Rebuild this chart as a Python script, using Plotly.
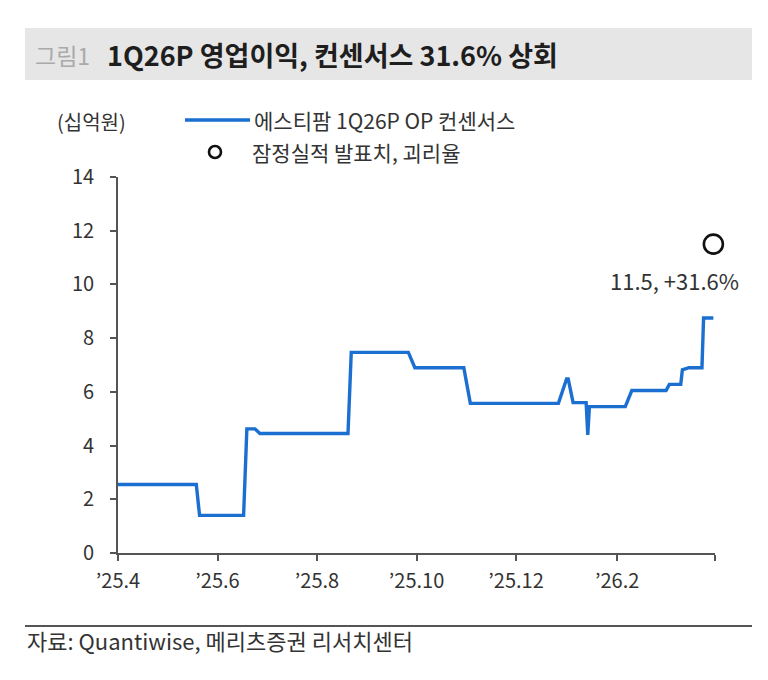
import plotly.graph_objects as go

FONT = "Noto Sans CJK KR"

# consensus OP (KRW bn), step series
op_dates = [
    "2025-04-01", "2025-05-19", "2025-05-21", "2025-06-17", "2025-06-19",
    "2025-06-24", "2025-06-27", "2025-08-20", "2025-08-22", "2025-09-26",
    "2025-09-30", "2025-10-30", "2025-11-03", "2025-12-27", "2026-01-01",
    "2026-01-02", "2026-01-05", "2026-01-13", "2026-01-14", "2026-01-15",
    "2026-02-06", "2026-02-10", "2026-03-03", "2026-03-05", "2026-03-12",
    "2026-03-13", "2026-03-17", "2026-03-25", "2026-03-26", "2026-04-01",
]
op_values = [
    2.55, 2.55, 1.40, 1.40, 4.62,
    4.62, 4.45, 4.45, 7.47, 7.47,
    6.90, 6.90, 5.57, 5.57, 6.48,
    6.48, 5.60, 5.60, 4.40, 5.45,
    5.45, 6.05, 6.05, 6.28, 6.28,
    6.82, 6.90, 6.90, 8.75, 8.75,
]

actual_date = ["2026-04-01"]
actual_value = [11.5]
actual_label = "11.5, +31.6%"

tick_dates = ["2025-04-01", "2025-06-01", "2025-08-01", "2025-10-01",
              "2025-12-01", "2026-02-01", "2026-04-02"]
tick_labels = ["’25.4", "’25.6", "’25.8", "’25.10", "’25.12", "’26.2", ""]

BLUE = "#1a6fd0"
AXIS = "#555555"
TEXT = "#333333"

fig = go.Figure()
fig.add_trace(go.Scatter(x=op_dates, y=op_values, mode="lines",
                         line=dict(color=BLUE, width=3.4), showlegend=False))
fig.add_trace(go.Scatter(x=actual_date, y=actual_value, mode="markers", cliponaxis=False,
                         marker=dict(symbol="circle-open", size=19, color="#111111",
                                     line=dict(width=2.6)),
                         showlegend=False))

fig.add_annotation(x=actual_date[0], y=actual_value[0], text=actual_label, showarrow=False,
                   xshift=-39, yshift=-36, font=dict(family=FONT, size=22, color=TEXT))


def paper_text(x, y, text, size, color=TEXT):
    fig.add_annotation(xref="paper", yref="paper", x=x, y=y, xanchor="left", yanchor="middle",
                       showarrow=False, text=text, font=dict(family=FONT, size=size, color=color))


# header band
fig.add_shape(type="rect", xref="paper", yref="paper", x0=-0.1558, x1=1.062, y0=1.258, y1=1.396,
              fillcolor="#e6e6e6", line_width=0, layer="below")
paper_text(-0.1424, 1.3245, "그림1", 23, "#aaaaaa")
paper_text(-0.0218, 1.3245, "<b>1Q26P 영업이익, 컨센서스 31.6% 상회</b>", 27, "#1e1e1e")

# legend, drawn by hand
paper_text(-0.1055, 1.1463, "(십억원)", 20)
fig.add_shape(type="line", xref="paper", yref="paper", x0=0.1122, x1=0.2211, y0=1.1516, y1=1.1516,
              line=dict(color=BLUE, width=3.4))
paper_text(0.2245, 1.1516, "에스티팜 1Q26P OP 컨센서스", 21)
fig.add_shape(type="circle", xref="paper", yref="paper", x0=0.1524, x1=0.1725, y0=1.0505, y1=1.0824,
              line=dict(color="#111111", width=2.6))
paper_text(0.2211, 1.0665, "잠정실적 발표치, 괴리율", 21)

# footer rule and source
fig.add_shape(type="line", xref="paper", yref="paper", x0=-0.1558, x1=1.062, y0=-0.1941, y1=-0.1941,
              line=dict(color="#555555", width=1.8))
paper_text(-0.1558, -0.2314, "자료: Quantiwise, 메리츠증권 리서치센터", 22)

# page body has an 8px margin, so the figure is slightly smaller than the window
fig.update_layout(
    width=760, height=672,
    margin=dict(l=110, r=53, t=169, b=127),
    paper_bgcolor="white", plot_bgcolor="white",
    font=dict(family=FONT, size=20, color=TEXT),
    xaxis=dict(type="date", range=["2025-04-01", "2026-04-02"],
               tickvals=tick_dates, ticktext=tick_labels,
               showline=True, linecolor=AXIS, linewidth=1.6,
               ticks="outside", ticklen=6, tickwidth=1.6, tickcolor=AXIS,
               ticklabelstandoff=3,
               showgrid=False, zeroline=False),
    yaxis=dict(range=[0, 14], dtick=2, showline=True, linecolor=AXIS, linewidth=1.6,
               ticks="outside", ticklen=6, tickwidth=1.6, tickcolor=AXIS,
               ticklabelstandoff=12,
               showgrid=False, zeroline=False),
)

fig.write_html("out.html")
